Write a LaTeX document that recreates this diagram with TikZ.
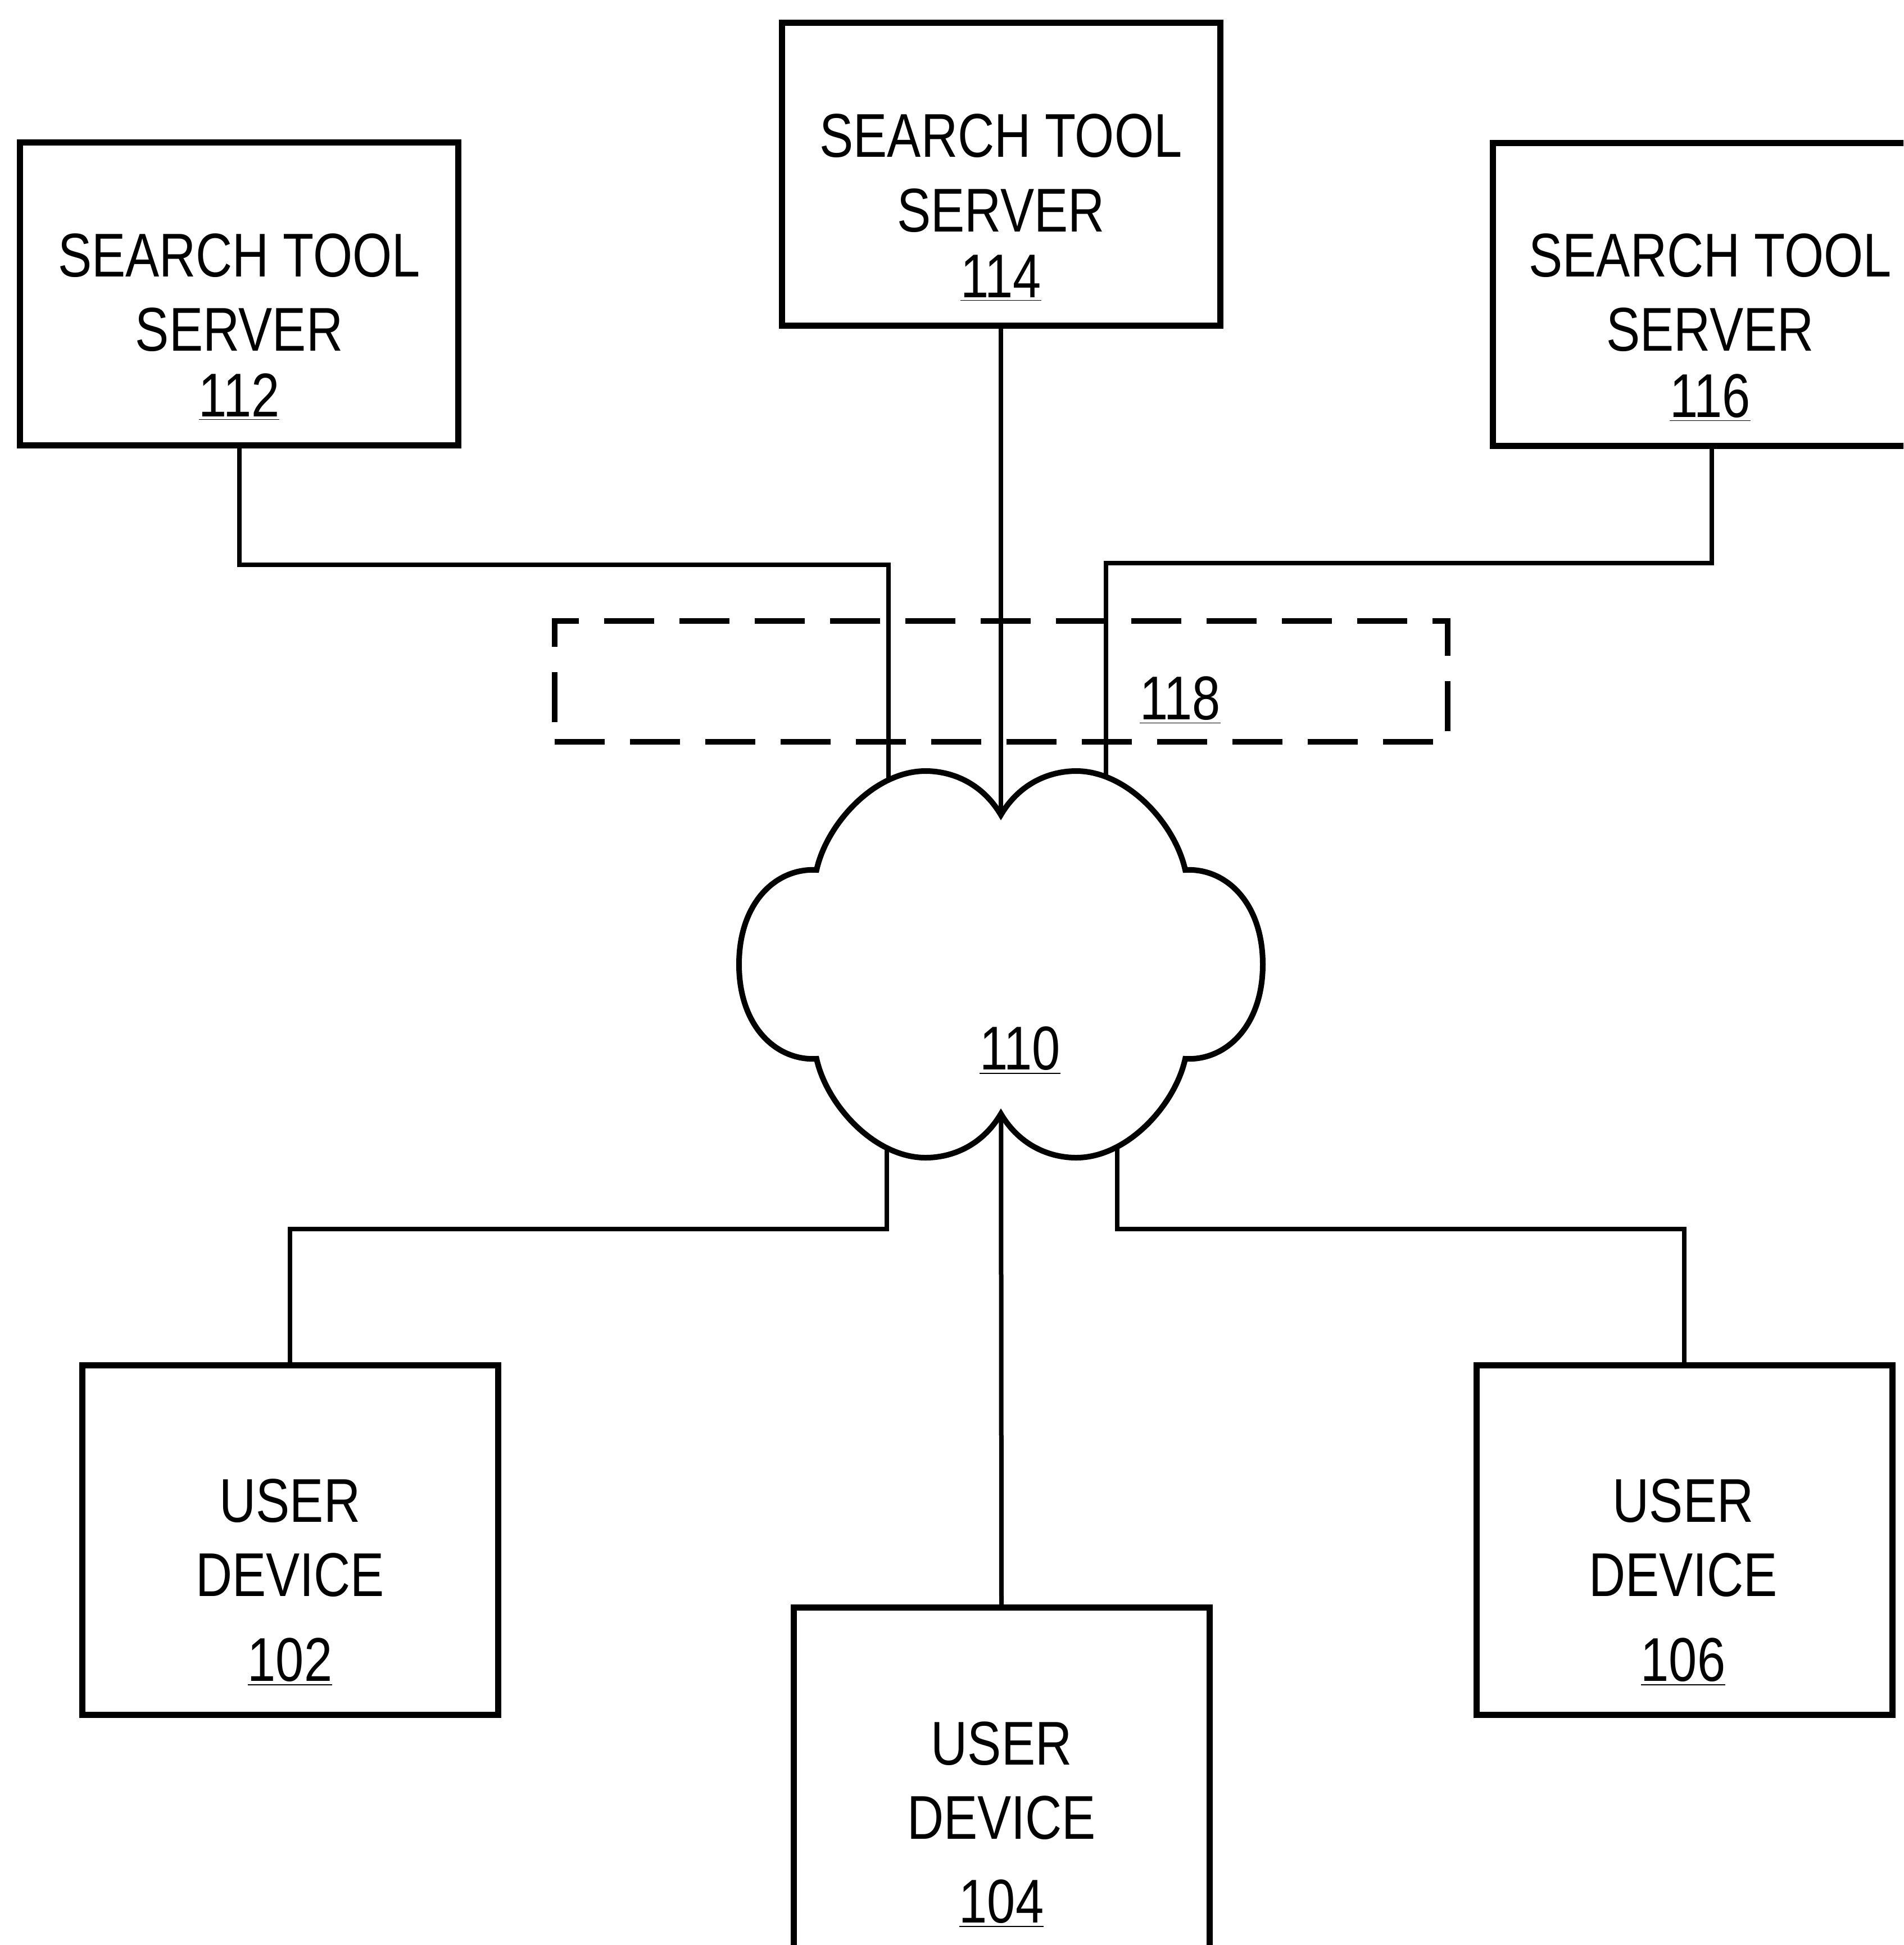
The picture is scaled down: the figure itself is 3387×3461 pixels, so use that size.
\documentclass[tikz,border=0pt]{standalone}
\usepackage{fontspec}
\newfontfamily\labfont[FakeStretch=0.82]{Liberation Sans}
\begin{document}
\begin{tikzpicture}[x=0.25pt, y=-0.25pt,
  box/.style={draw, line width=2.75pt, rectangle, inner sep=0pt, outer sep=0pt},
  serverbox/.style={box, minimum width=195pt, minimum height=134.75pt},
  devicebox/.style={box, minimum width=185pt, minimum height=155.5pt},
  dashbox/.style={draw, line width=2.6pt, rectangle, inner sep=0pt, outer sep=0pt,
    dash pattern=on 22.25pt off 11.25pt},
  conn/.style={line width=2pt},
  cloudline/.style={line width=2.5pt, fill=white},
  lab/.style={font=\labfont\fontsize{27.5}{33}\selectfont, inner sep=0pt, anchor=base}]
\useasboundingbox (0,0) rectangle (3387,3461);
\clip (0,0) rectangle (3387,3461);

% search tool servers
\node[serverbox] (s112) at (425.5,523) {};
\node[lab] (s112a) at (425.5,492) {SEARCH TOOL};
\node[lab] (s112b) at (425.5,624) {SERVER};
\node[lab] (s112c) at (425.5,741) {\underline{112}};

\node[serverbox] (s114) at (1781,310) {};
\node[lab] (s114a) at (1781,279) {SEARCH TOOL};
\node[lab] (s114b) at (1781,412) {SERVER};
\node[lab] (s114c) at (1781,529) {\underline{114}};

\node[serverbox] (s116) at (3046,523.5) {};
\node[lab] (s116a) at (3043,492) {SEARCH TOOL};
\node[lab] (s116b) at (3043,624) {SERVER};
\node[lab] (s116c) at (3043,742) {\underline{116}};

% user devices
\node[devicebox] (d102) at (516,2740) {};
\node[lab] (d102a) at (516,2708) {USER};
\node[lab] (d102b) at (516,2840) {DEVICE};
\node[lab] (d102c) at (516,2991) {\underline{102}};

\node[devicebox] (d104) at (1782,3171) {};
\node[lab] (d104a) at (1782,3140) {USER};
\node[lab] (d104b) at (1782,3272) {DEVICE};
\node[lab] (d104c) at (1782,3421) {\underline{104}};

\node[devicebox] (d106) at (2997,2740) {};
\node[lab] (d106a) at (2995,2708) {USER};
\node[lab] (d106b) at (2995,2840) {DEVICE};
\node[lab] (d106c) at (2995,2991) {\underline{106}};

% dashed box 118
\node[dashbox, minimum width=397.25pt, minimum height=53.75pt] (b118) at (1781.5,1212.5) {};
\node[lab] (l118) at (2100,1280) {\underline{118}};

% connectors
\coordinate (net) at (1781,1716);
\coordinate (j1) at (1581,1005);
\coordinate (j3) at (1968,1002);
\coordinate (j4) at (1578,2187);
\coordinate (j6) at (1988,2187);
\draw[conn] (s112.south) |- (j1) -- (j1 |- net);
\draw[conn] (s114.south) -- (net);
\draw[conn] (s116.south) |- (j3) -- (j3 |- net);
\draw[conn] (d102.north) |- (j4) -- (j4 |- net);
\draw[conn] (d104.north) -- (net);
\draw[conn] (d106.north) |- (j6) -- (j6 |- net);

% network cloud 110
\begin{scope}[shift={(net)}]
\draw[cloudline] (0,-266)
  .. controls (-35,-325) and (-90,-344) .. (-134,-344)
  .. controls (-225,-344) and (-310,-250) .. (-328,-168)
  .. controls (-400,-172) and (-466,-110) .. (-466,0)
  .. controls (-466,110) and (-400,172) .. (-328,168)
  .. controls (-310,250) and (-225,344) .. (-134,344)
  .. controls (-90,344) and (-35,325) .. (0,266)
  .. controls (35,325) and (90,344) .. (134,344)
  .. controls (225,344) and (310,250) .. (328,168)
  .. controls (400,172) and (466,110) .. (466,0)
  .. controls (466,-110) and (400,-172) .. (328,-168)
  .. controls (310,-250) and (225,-344) .. (134,-344)
  .. controls (90,-344) and (35,-325) .. (0,-266) -- cycle;
\end{scope}
\node[lab] (l110) at (1815,1903) {\underline{110}};
\end{tikzpicture}
\end{document}
